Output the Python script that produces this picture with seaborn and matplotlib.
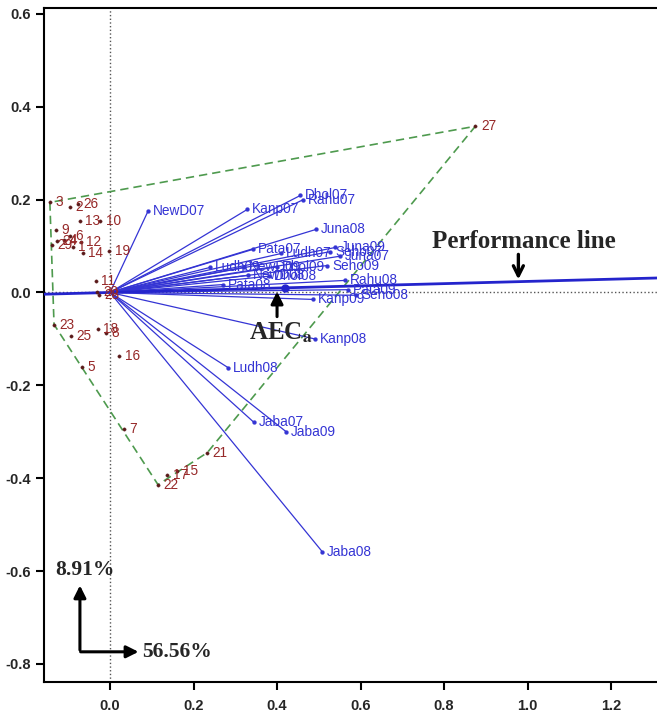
import numpy as np
import pandas as pd
import seaborn as sns
from matplotlib import pyplot as plt

sns.set_style("ticks")
plt.rcParams["font.family"] = ["Liberation Sans", "DejaVu Sans"]
plt.rcParams["mathtext.fontset"] = "stix"

# genotype scores (PC1, PC2)
genotypes = [str(i) for i in range(1, 30)]
gen_pc1 = [-0.089, -0.096, -0.144, -0.110, -0.067, -0.096, 0.034, -0.010, -0.130, -0.024,
           -0.034, -0.070, -0.072, -0.065, 0.161, 0.022, 0.137, -0.029, -0.002, -0.030,
           0.233, 0.115, -0.134, -0.127, -0.094, -0.077, 0.875, -0.026, -0.139]
gen_pc2 = [0.099, 0.185, 0.194, 0.112, -0.160, 0.122, -0.295, -0.088, 0.134, 0.153,
           0.024, 0.108, 0.153, 0.084, -0.385, -0.136, -0.394, -0.078, 0.090, 0.000,
           -0.345, -0.414, -0.069, 0.110, -0.093, 0.190, 0.358, -0.006, 0.103]

# environment vectors (PC1, PC2)
environments = ["NewD07", "Kanp07", "Dhol07", "Rahu07", "Juna08", "Pata07", "Ludh07",
                "Juna09", "Seho07", "Juna07", "Ludh09", "NewD09", "Dhol09", "Seho09",
                "NewD08", "Dhol08", "Pata08", "Rahu08", "Pata09", "Seho08", "Kanp09",
                "Kanp08", "Ludh08", "Jaba07", "Jaba09", "Jaba08"]
env_pc1 = [0.091, 0.329, 0.456, 0.463, 0.494, 0.343, 0.410,
           0.540, 0.528, 0.550, 0.240, 0.320, 0.400, 0.520,
           0.330, 0.380, 0.270, 0.563, 0.570, 0.590, 0.487,
           0.490, 0.283, 0.345, 0.422, 0.508]
env_pc2 = [0.175, 0.179, 0.209, 0.200, 0.136, 0.093, 0.084,
           0.097, 0.088, 0.078, 0.054, 0.054, 0.055, 0.058,
           0.037, 0.035, 0.017, 0.026, 0.006, -0.006, -0.015,
           -0.100, -0.162, -0.280, -0.300, -0.558]

pc1_share = "56.56%"
pc2_share = "8.91%"

gen_df = pd.DataFrame({"label": genotypes, "pc1": gen_pc1, "pc2": gen_pc2})
env_df = pd.DataFrame({"label": environments, "pc1": env_pc1, "pc2": env_pc2})

red = "#962828"
blue = "#3434D4"
green = "#4E9A4E"


def convex_hull(pts):
    pts = sorted(set(pts))

    def cross(o, a, b):
        return (a[0] - o[0]) * (b[1] - o[1]) - (a[1] - o[1]) * (b[0] - o[0])

    lower, upper = [], []
    for p in pts:
        while len(lower) >= 2 and cross(lower[-2], lower[-1], p) <= 0:
            lower.pop()
        lower.append(p)
    for p in reversed(pts):
        while len(upper) >= 2 and cross(upper[-2], upper[-1], p) <= 0:
            upper.pop()
        upper.append(p)
    return lower[:-1] + upper[:-1]


fig, ax = plt.subplots(figsize=(6.57, 7.16), dpi=100)
fig.subplots_adjust(left=0.067, right=1.0, bottom=0.0475, top=0.989)

xlim = (-0.158, 1.31)
ax.set_xlim(*xlim)
ax.set_ylim(-0.839, 0.613)

ax.axvline(0, color="#555555", ls=":", lw=1, zorder=1)
ax.axhline(0, color="#555555", ls=":", lw=1, zorder=1)

# polygon around the genotypes
hull = convex_hull(list(zip(gen_pc1, gen_pc2)))
hull.append(hull[0])
ax.plot([p[0] for p in hull], [p[1] for p in hull], color=green, ls=(0, (5, 3)), lw=1.2, zorder=2)

# environment vectors
for x, y in zip(env_pc1, env_pc2):
    ax.plot([0, x], [0, y], color=blue, lw=0.9, zorder=3)
sns.scatterplot(data=env_df, x="pc1", y="pc2", color=blue, s=8, edgecolor=None, ax=ax, zorder=4)
for _, r in env_df.iterrows():
    ax.annotate(r["label"], (r["pc1"], r["pc2"]), xytext=(3.5, 0), textcoords="offset points",
                ha="left", va="center", color=blue, fontsize=9.8, zorder=5)

# genotypes
sns.scatterplot(data=gen_df, x="pc1", y="pc2", color="#5a1a1a", s=6, edgecolor=None, ax=ax, zorder=4)
for _, r in gen_df.iterrows():
    ax.annotate(r["label"], (r["pc1"], r["pc2"]), xytext=(4, 0), textcoords="offset points",
                ha="left", va="center", color=red, fontsize=9.8, zorder=5)

# average environment coordinate and performance line
aec_x, aec_y = np.mean(env_pc1), np.mean(env_pc2)
slope = aec_y / aec_x
xs = np.array(xlim)
ax.plot(xs, slope * xs, color="#2424CC", lw=2, zorder=3)
ax.plot([aec_x], [aec_y], "o", color="#2424CC", ms=5, zorder=6)

serif = dict(family=["Liberation Serif", "DejaVu Serif"], fontweight="bold")
open_arrow = dict(arrowstyle="->", color="black", lw=2.4, mutation_scale=18)
solid_arrow = dict(arrowstyle="-|>", color="black", lw=2.2, mutation_scale=18)

ax.annotate("", xy=(0.978, 0.022), xytext=(0.978, 0.088), arrowprops=open_arrow, zorder=7)
ax.text(0.99, 0.110, "Performance line", ha="center", va="center", fontsize=18, **serif)

ax.annotate("", xy=(aec_x - 0.02, aec_y - 0.002), xytext=(aec_x - 0.02, -0.058), arrowprops=solid_arrow, zorder=7)
ax.text(aec_x - 0.012, -0.088, r"AEC$_\mathbf{a}$", ha="center", va="center", fontsize=18, **serif)

ax.annotate("", xy=(-0.072, -0.625), xytext=(-0.072, -0.776), arrowprops=solid_arrow, zorder=7)
ax.annotate("", xy=(0.075, -0.774), xytext=(-0.077, -0.774), arrowprops=solid_arrow, zorder=7)
ax.text(-0.06, -0.598, pc2_share, ha="center", va="center", fontsize=15.5, **serif)
ax.text(0.078, -0.774, pc1_share, ha="left", va="center", fontsize=15.5, **serif)

ax.set_xticks([0.0, 0.2, 0.4, 0.6, 0.8, 1.0, 1.2])
ax.set_yticks([-0.8, -0.6, -0.4, -0.2, 0.0, 0.2, 0.4, 0.6])
ax.set_xticklabels([f"{v:.1f}" for v in ax.get_xticks()], fontweight="bold", fontsize=10.5)
ax.set_yticklabels([f"{v:.1f}" for v in ax.get_yticks()], fontweight="bold", fontsize=10.5)
ax.tick_params(axis="both", length=6, width=1.5, color="black")
ax.tick_params(axis="x", pad=6)
ax.set_xlabel("")
ax.set_ylabel("")
for side in ["left", "bottom", "top"]:
    ax.spines[side].set_linewidth(1.5)
    ax.spines[side].set_color("black")
ax.spines["right"].set_visible(False)

fig.savefig("out.png", dpi=100)
